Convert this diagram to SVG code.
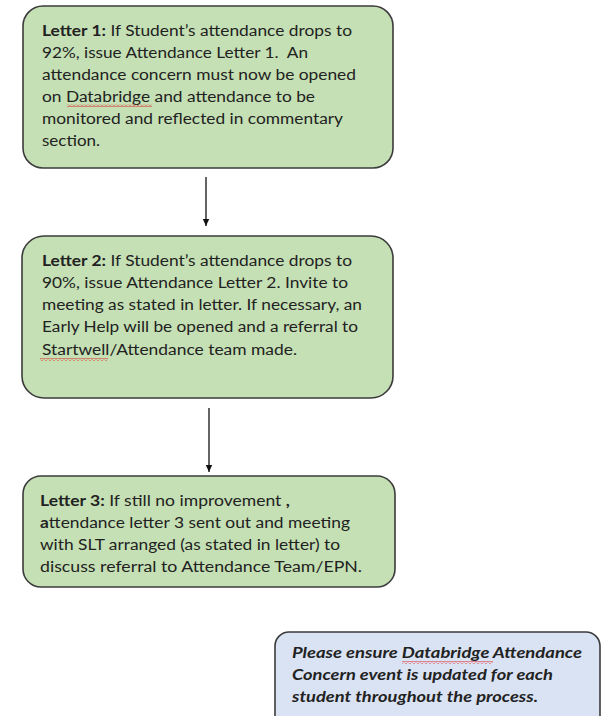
<svg xmlns="http://www.w3.org/2000/svg" width="601" height="716" viewBox="0 0 601 716">
<style>
.box{fill:#c5e0b4;stroke:#3b3b3b;stroke-width:1.6}
.note{fill:#dae3f3;stroke:#3b3b3b;stroke-width:1.6}
.t{font-family:Lato,"Liberation Sans",sans-serif;font-size:14.5px;fill:#222}
.ti{font-family:Lato,"Liberation Sans",sans-serif;font-size:14.5px;fill:#222;font-style:italic;font-weight:bold}
.b{font-weight:bold}
.con{stroke:#111;stroke-width:1.3;fill:none}
</style>
<defs>
<marker id="ah" markerWidth="8" markerHeight="8" refX="7" refY="4" orient="auto" markerUnits="userSpaceOnUse">
<path d="M0,0.8 L7,4 L0,7.2 Z" fill="#111"/>
</marker>
<pattern id="sq" width="4" height="3" patternUnits="userSpaceOnUse">
<polyline points="0,2.5 2,0.5 4,2.5" fill="none" stroke="#e02828" stroke-width="1"/>
</pattern>
</defs>
<g id="connectors">
<line class="con" x1="206" y1="177" x2="206" y2="226" marker-end="url(#ah)"/>
<line class="con" x1="209" y1="408" x2="209" y2="472" marker-end="url(#ah)"/>
</g>
<g id="letter1">
<rect class="box" x="23" y="6" width="370" height="162" rx="20"/>
<text class="t"><tspan x="42" y="36" textLength="310" lengthAdjust="spacingAndGlyphs"><tspan class="b">Letter 1:</tspan> If Student’s attendance drops to</tspan><tspan x="42" y="58" textLength="266" lengthAdjust="spacingAndGlyphs">92%, issue Attendance Letter 1.&#160; An</tspan><tspan x="42" y="80" textLength="314" lengthAdjust="spacingAndGlyphs">attendance concern must now be opened</tspan><tspan x="42" y="102" textLength="273" lengthAdjust="spacingAndGlyphs">on Databridge and attendance to be</tspan><tspan x="42" y="124" textLength="301" lengthAdjust="spacingAndGlyphs">monitored and reflected in commentary</tspan><tspan x="42" y="146" textLength="58" lengthAdjust="spacingAndGlyphs">section.</tspan></text>
<rect x="67" y="104" width="85" height="3" fill="url(#sq)"/>
</g>
<g id="letter2">
<rect class="box" x="22" y="236" width="371" height="162" rx="22"/>
<text class="t"><tspan x="42" y="266" textLength="310" lengthAdjust="spacingAndGlyphs"><tspan class="b">Letter 2:</tspan> If Student’s attendance drops to</tspan><tspan x="42" y="288" textLength="306" lengthAdjust="spacingAndGlyphs">90%, issue Attendance Letter 2. Invite to</tspan><tspan x="42" y="310" textLength="320" lengthAdjust="spacingAndGlyphs">meeting as stated in letter. If necessary, an</tspan><tspan x="42" y="332" textLength="316" lengthAdjust="spacingAndGlyphs">Early Help will be opened and a referral to</tspan><tspan x="42" y="355" textLength="255" lengthAdjust="spacingAndGlyphs">Startwell/Attendance team made.</tspan></text>
<rect x="40" y="358" width="68" height="3" fill="url(#sq)"/>
</g>
<g id="letter3">
<rect class="box" x="23" y="476" width="372" height="111" rx="18"/>
<text class="t"><tspan x="40" y="506" textLength="250" lengthAdjust="spacingAndGlyphs"><tspan class="b">Letter 3:</tspan> If still no improvement <tspan class="b">,</tspan></tspan><tspan x="40" y="528" textLength="310" lengthAdjust="spacingAndGlyphs"><tspan class="b">a</tspan>ttendance letter 3 sent out and meeting</tspan><tspan x="40" y="550" textLength="300" lengthAdjust="spacingAndGlyphs">with SLT arranged (as stated in letter) to</tspan><tspan x="40" y="572" textLength="322" lengthAdjust="spacingAndGlyphs">discuss referral to Attendance Team/EPN.</tspan></text>
</g>
<g id="note">
<rect class="note" x="275" y="632" width="325" height="100" rx="14"/>
<text class="ti"><tspan x="292" y="658" textLength="290" lengthAdjust="spacingAndGlyphs">Please ensure Databridge Attendance</tspan><tspan x="292" y="680" textLength="261" lengthAdjust="spacingAndGlyphs">Concern event is updated for each</tspan><tspan x="292" y="702" textLength="246" lengthAdjust="spacingAndGlyphs">student throughout the process.</tspan></text>
<rect x="402" y="661" width="91" height="3" fill="url(#sq)"/>
</g>
</svg>
